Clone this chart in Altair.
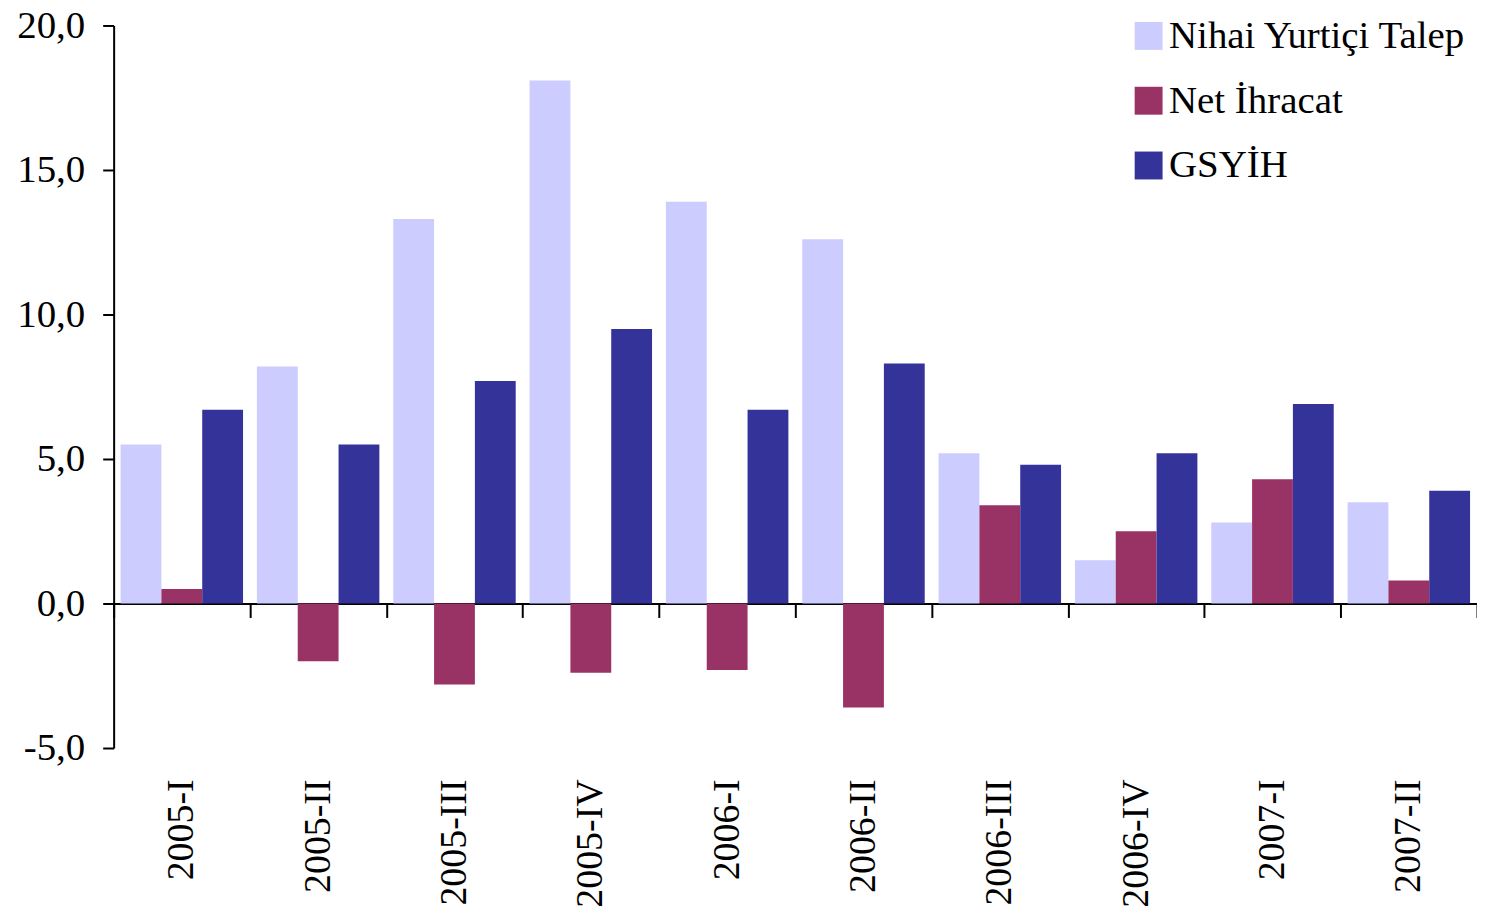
import altair as alt
import pandas as pd

categories = ["2005-I", "2005-II", "2005-III", "2005-IV", "2006-I",
              "2006-II", "2006-III", "2006-IV", "2007-I", "2007-II"]
series = ["Nihai Yurtiçi Talep", "Net İhracat", "GSYİH"]
nihai = [5.5, 8.2, 13.3, 18.1, 13.9, 12.6, 5.2, 1.5, 2.8, 3.5]
net_ihracat = [0.5, -2.0, -2.8, -2.4, -2.3, -3.6, 3.4, 2.5, 4.3, 0.8]
gsyih = [6.7, 5.5, 7.7, 9.5, 6.7, 8.3, 4.8, 5.2, 6.9, 3.9]
colors = ["#CCCCFF", "#993366", "#333399"]
y_ticks = [-5, 0, 5, 10, 15, 20]

rows = []
for name, vals in zip(series, [nihai, net_ihracat, gsyih]):
    for c, v in zip(categories, vals):
        rows.append({"donem": c, "seri": name, "deger": v})
df = pd.DataFrame(rows)

FONT = "Liberation Serif"

chart = alt.Chart(df).mark_bar().encode(
    x=alt.X("donem:N", sort=categories, title=None,
            scale=alt.Scale(paddingInner=0, paddingOuter=0),
            axis=alt.Axis(offset=-145, tickBand="extent", tickSize=14, tickWidth=2,
                          tickColor="black", domainColor="black", domainWidth=2,
                          labelAngle=270, labelPadding=162, labelFont=FONT,
                          labelFontSize=38, labelColor="black", grid=False)),
    xOffset=alt.XOffset("seri:N", sort=series,
                        scale=alt.Scale(paddingInner=0, paddingOuter=0.17)),
    y=alt.Y("deger:Q", title=None,
            scale=alt.Scale(domain=[-5, 20], nice=False, zero=False),
            axis=alt.Axis(values=y_ticks, labelExpr="datum.value + ',0'",
                          tickSize=11, tickWidth=2, tickColor="black",
                          domainColor="black", domainWidth=2, grid=False,
                          labelPadding=18, labelFont=FONT, labelFontSize=39,
                          labelColor="black")),
    color=alt.Color("seri:N", sort=series,
                    scale=alt.Scale(domain=series, range=colors),
                    legend=alt.Legend(title=None, orient="none", legendX=1019, legendY=-9,
                                      symbolType="square", symbolSize=784,
                                      symbolStrokeWidth=0, labelFont=FONT,
                                      labelFontSize=39, labelColor="black",
                                      rowPadding=25, labelOffset=1, labelLimit=0)),
).properties(
    width=1368, height=725,
    autosize=alt.AutoSizeParams(type="none"),
    padding={"left": 106, "top": 16, "right": 0, "bottom": 158},
).configure_view(stroke=None)

chart.save("out.html", embed_options={"renderer": "svg", "actions": False})
